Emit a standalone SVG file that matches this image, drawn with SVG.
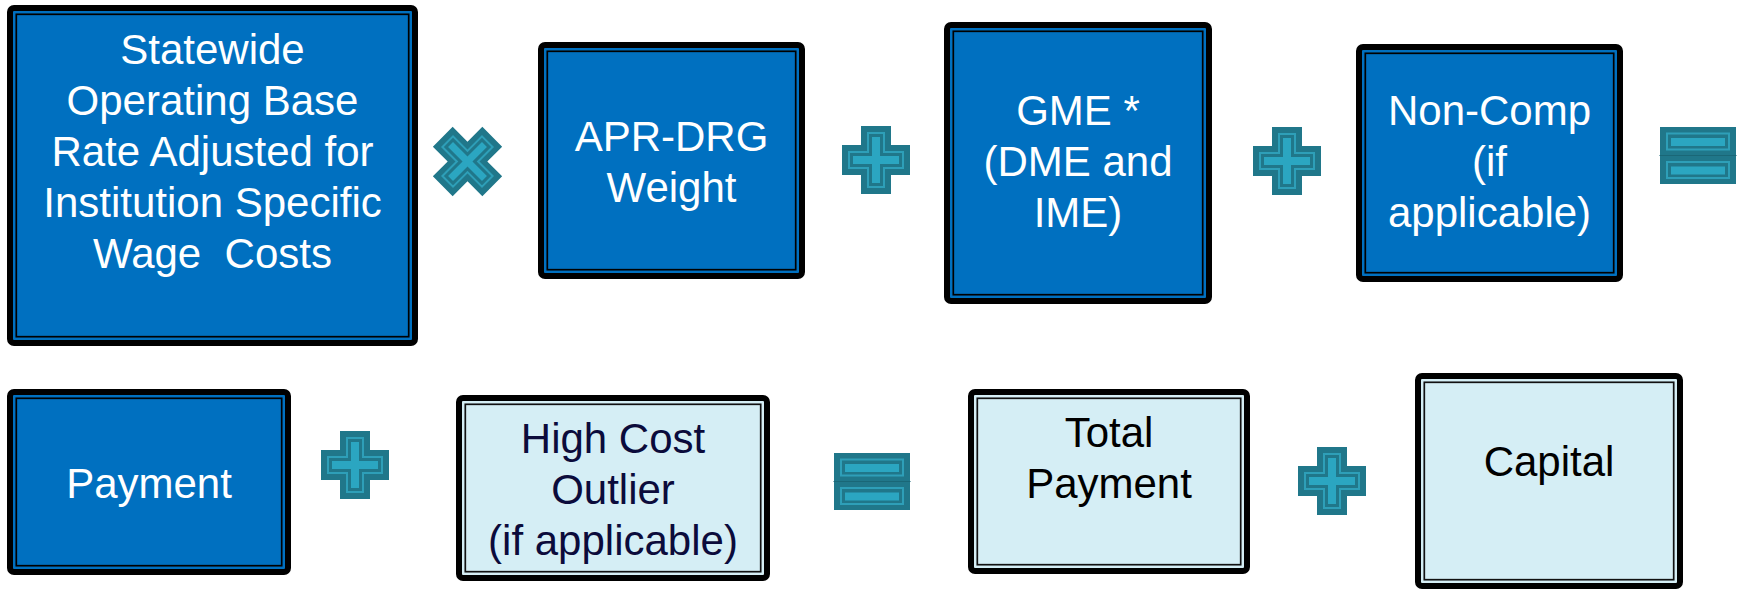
<svg xmlns="http://www.w3.org/2000/svg" xmlns:xlink="http://www.w3.org/1999/xlink" width="1742" height="595" viewBox="0 0 1742 595">
<style>
.blue{fill:#0070C0}
.light{fill:#D5EEF5}
.outer{stroke:#000;stroke-width:6}
.inner{fill:none;stroke:#000;stroke-width:1.7}
.innerL{fill:none;stroke:#111;stroke-width:1.7}
text{font-family:"Liberation Sans",Arial,sans-serif;font-size:42px;text-anchor:middle}
.w{fill:#FFFFFF}
.n{fill:#0B0B3B}
.k{fill:#000000}
.opDark{fill:#20778A}
.opLine{fill:none;stroke:#2E9FB8;stroke-width:2}
.opFill{fill:#2BA6C1}
</style>
<defs>
<g id="plus">
<path class="opDark" d="M-15-34H15V-15H34V15H15V34H-15V15H-34V-15H-15Z"/>
<path class="opLine" d="M-8-27H8V-8H27V8H8V27H-8V8H-27V-8H-8Z"/>
<path class="opFill" d="M-4-23H4V-4H23V4H4V23H-4V4H-23V-4H-4Z"/>
</g>
<g id="times">
<path class="opDark" d="M-14-35H14V-14H35V14H14V35H-14V14H-35V-14H-14Z"/>
<path class="opLine" d="M-7.5-28H7.5V-7.5H28V7.5H7.5V28H-7.5V7.5H-28V-7.5H-7.5Z"/>
<path class="opFill" d="M-3.5-24H3.5V-3.5H24V3.5H3.5V24H-3.5V3.5H-24V-3.5H-3.5Z"/>
</g>
<g id="equals">
<rect class="opDark" x="0" y="0" width="76" height="57"/>
<rect x="-0.5" y="28" width="77" height="1" fill="#1A6777"/>
<rect class="opLine" x="7" y="6.5" width="62" height="16"/>
<rect class="opFill" x="11" y="11" width="54" height="8"/>
<rect class="opLine" x="7" y="35" width="62" height="16"/>
<rect class="opFill" x="11" y="39.5" width="54" height="8"/>
</g>
</defs>
<rect width="1742" height="595" fill="#FFFFFF"/>

<g id="node-base-rate">
<rect class="blue outer" x="10" y="8" width="405" height="335" rx="4"/>
<rect class="inner" x="16.3" y="14.3" width="392.4" height="322.4"/>
<text class="w" x="212.5" y="63.5">Statewide</text>
<text class="w" x="212.5" y="114.7">Operating Base</text>
<text class="w" x="212.5" y="165.9">Rate Adjusted for</text>
<text class="w" x="212.5" y="217.1">Institution Specific</text>
<text class="w" x="212.5" y="268.3" xml:space="preserve">Wage  Costs</text>
</g>

<g id="node-apr-drg">
<rect class="blue outer" x="541" y="45" width="261" height="231" rx="4"/>
<rect class="inner" x="547.3" y="51.3" width="248.4" height="218.4"/>
<text class="w" x="671.5" y="151">APR-DRG</text>
<text class="w" x="671.5" y="202">Weight</text>
</g>

<g id="node-gme">
<rect class="blue outer" x="947" y="25" width="262" height="276" rx="4"/>
<rect class="inner" x="953.3" y="31.3" width="249.4" height="263.4"/>
<text class="w" x="1078" y="124.5">GME *</text>
<text class="w" x="1078" y="175.7">(DME and</text>
<text class="w" x="1078" y="226.9">IME)</text>
</g>

<g id="node-noncomp">
<rect class="blue outer" x="1359" y="47" width="261" height="232" rx="4"/>
<rect class="inner" x="1365.3" y="53.3" width="248.4" height="219.4"/>
<text class="w" x="1489.5" y="125">Non-Comp</text>
<text class="w" x="1489.5" y="176.2">(if</text>
<text class="w" x="1489.5" y="227.4">applicable)</text>
</g>

<g id="node-payment">
<rect class="blue outer" x="10" y="392" width="278" height="180" rx="4"/>
<rect class="inner" x="16.3" y="398.3" width="265.4" height="167.4"/>
<text class="w" x="149" y="498">Payment</text>
</g>

<g id="node-high-cost-outlier">
<rect class="light outer" x="459" y="398" width="308" height="180" rx="4"/>
<rect class="innerL" x="465.3" y="404.3" width="295.4" height="167.4"/>
<text class="n" x="613" y="452.7">High Cost</text>
<text class="n" x="613" y="503.9">Outlier</text>
<text class="n" x="613" y="555.1">(if applicable)</text>
</g>

<g id="node-total-payment">
<rect class="light outer" x="971" y="392" width="276" height="179" rx="4"/>
<rect class="innerL" x="977.3" y="398.3" width="263.4" height="166.4"/>
<text class="k" x="1109" y="447">Total</text>
<text class="k" x="1109" y="498.2">Payment</text>
</g>

<g id="node-capital">
<rect class="light outer" x="1418" y="376" width="262" height="210" rx="4"/>
<rect class="innerL" x="1424.3" y="382.3" width="249.4" height="197.4"/>
<text class="k" x="1549" y="476">Capital</text>
</g>

<g id="operators">
<use xlink:href="#times" href="#times" transform="translate(467.5,161.5) rotate(45)"/>
<use xlink:href="#plus" href="#plus" transform="translate(876,160)"/>
<use xlink:href="#plus" href="#plus" transform="translate(1287,161)"/>
<use xlink:href="#equals" href="#equals" transform="translate(1660,127)"/>
<use xlink:href="#plus" href="#plus" transform="translate(355,465)"/>
<use xlink:href="#equals" href="#equals" transform="translate(834,453)"/>
<use xlink:href="#plus" href="#plus" transform="translate(1332,481)"/>
</g>
</svg>
